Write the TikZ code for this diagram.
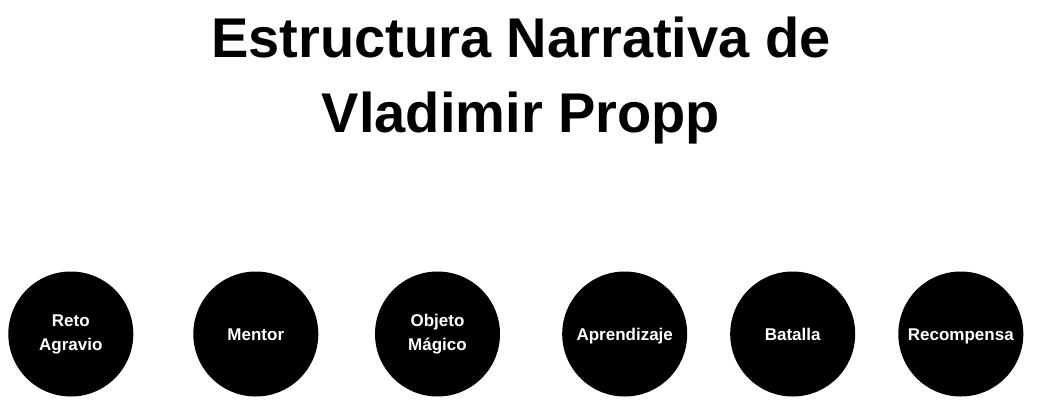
\documentclass[tikz,border=0pt]{standalone}
\usepackage{fontspec}
\setmainfont{Liberation Sans}
\begin{document}
\begin{tikzpicture}[x=1pt,y=-1pt,
  titletext/.style={inner sep=0pt, align=center, font=\bfseries\fontsize{56}{75}\selectfont},
  stage/.style={circle, fill=black, draw=none, minimum size=125pt, inner sep=0pt,
    text=white, align=center, font=\bfseries\fontsize{17}{24}\selectfont},
  oneline/.style={stage, text height=12.2pt, text depth=0pt}]
\useasboundingbox[fill=white] (0,0) rectangle (1049,420);
\node[titletext] (title) at (521,81) {Estructura Narrativa de\\Vladimir Propp};
\node[stage] (s1) at (70.8,334) {Reto\\Agravio};
\node[oneline] (s2) at (255.8,334) {Mentor};
\node[stage] (s3) at (437.5,334) {Objeto\\Mágico};
\node[oneline] (s4) at (624.7,334) {Aprendizaje};
\node[oneline] (s5) at (792.7,334) {Batalla};
\node[oneline] (s6) at (960.8,334) {Recompensa};
\end{tikzpicture}
\end{document}
